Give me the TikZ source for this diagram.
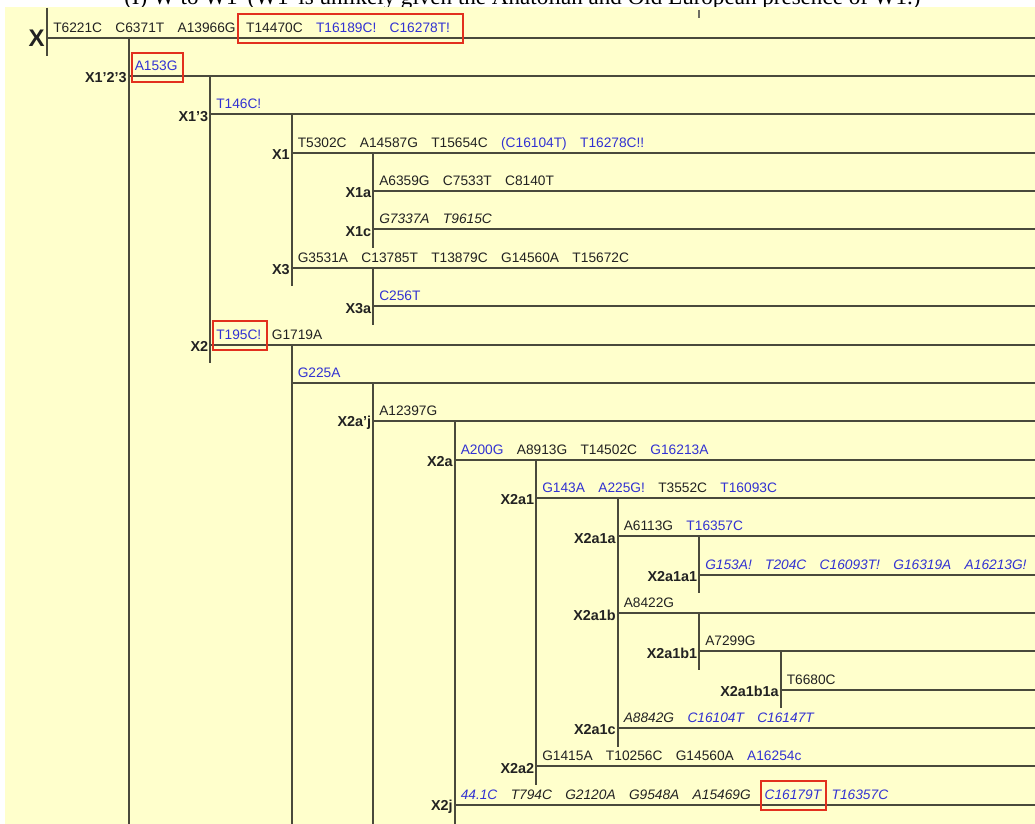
\documentclass[tikz,border=0pt]{standalone}
\usepackage{fontspec}
\setsansfont{Liberation Sans}
\newfontfamily\capfont{Liberation Serif}
\usetikzlibrary{calc}
\definecolor{bgyellow}{HTML}{FFFFCC}
\definecolor{mutblue}{HTML}{3232D2}
\definecolor{boxred}{HTML}{E2301E}
\definecolor{branchgray}{HTML}{4A4A3C}
\definecolor{txtblack}{HTML}{222222}
\newcommand\bl[1]{\textcolor{mutblue}{#1}}
\newcommand\gap{\hspace{10pt}}

\begin{document}
\begin{tikzpicture}[x=0.75pt,y=-0.75pt,
    branch/.style={draw=branchgray,line width=1.5pt},
    lab/.style={font=\sffamily\bfseries\fontsize{10.8}{12}\selectfont,text=txtblack,anchor=east,inner sep=0pt},
    mut/.style={font=\sffamily\fontsize{10.3}{12}\selectfont,text=txtblack,anchor=base west,inner sep=0pt},
    redbox/.style={draw=boxred,line width=1.5pt}]
  \useasboundingbox (0,0) rectangle (1035,824);
  \clip (0,0) rectangle (1035,824);
  \node[font=\capfont\fontsize{17.3}{19}\selectfont,anchor=base west,inner sep=0pt] (cap) at (124,5)
    {(I) W to W1' (W1' is unlikely given the Anatolian and Old European presence of W1.)};
  \fill[bgyellow] (5,7) rectangle (1035,824);
  \draw[line width=0.9pt,branchgray!80] (699,10) -- (699,18);

  % branch points: column / row of every haplogroup
  \foreach \n/\c/\r in {X/0/0, X123/1/1, X13/2/2, X1/3/3, X1a/4/4, X1c/4/5, X3/3/6, X3a/4/7,
      X2/2/8, G225A/3/9, X2aj/4/10, X2a/5/11, X2a1/6/12, X2a1a/7/13, X2a1a1/8/14, X2a1b/7/15,
      X2a1b1/8/16, X2a1b1a/9/17, X2a1c/7/18, X2a2/6/19, X2j/5/20}
    \coordinate (\n) at ({47+81.5*\c},{37.7+38.35*\r});
  \coordinate (E) at (1035,0);
  \coordinate (B) at (0,830);

  % horizontal branches
  \foreach \n in {X,X123,X13,X1,X1a,X1c,X3,X3a,X2,G225A,X2aj,X2a,X2a1,X2a1a,X2a1a1,X2a1b,
      X2a1b1,X2a1b1a,X2a1c,X2a2,X2j}
    \draw[branch] (\n) -- (\n -| E);

  % vertical stems
  \draw[branch] ($(X)+(0,-30)$) -- ($(X)+(0,18.6)$);
  \foreach \a/\p in {X123/X, G225A/X2, X2aj/G225A, X2a/X2aj}
    \draw[branch] (\a |- \p) -- (\a |- B);
  \foreach \a/\p/\z in {X13/X123/X2, X1/X13/X3, X1a/X1/X1c, X3a/X3/X3a, X2a1/X2a/X2a2,
      X2a1a/X2a1/X2a1c, X2a1a1/X2a1a/X2a1a1, X2a1b1/X2a1b/X2a1b1, X2a1b1a/X2a1b1/X2a1b1a}
    \draw[branch] (\a |- \p) -- ($(\z)+(0,18.6)$);

  % haplogroup names
  \node[lab,font=\sffamily\bfseries\fontsize{18}{20}\selectfont] (l-X) at ($(X)+(-2,1)$) {X};
  \foreach \n/\t in {X123/X1'2'3, X13/X1'3, X1/X1, X1a/X1a, X1c/X1c, X3/X3, X3a/X3a, X2/X2,
      X2aj/X2a'j, X2a/X2a, X2a1/X2a1, X2a1a/X2a1a, X2a1a1/X2a1a1, X2a1b/X2a1b, X2a1b1/X2a1b1,
      X2a1b1a/X2a1b1a, X2a1c/X2a1c, X2a2/X2a2, X2j/X2j}
    \node[lab] (l-\n) at ($(\n)+(-1.5,2)$) {\t};

  % mutations
  \node[mut] (m-X) at ($(X)+(6,-5.5)$) {T6221C\gap C6371T\gap A13966G};
  \node[mut,xshift=7.5pt] (bx-X) at (m-X.base east) {T14470C\gap\bl{T16189C!}\gap\bl{C16278T!}};
  \node[mut] (bx-X123) at ($(X123)+(6,-5.5)$) {\bl{A153G}};
  \node[mut] (m-X13) at ($(X13)+(6,-5.5)$) {\bl{T146C!}};
  \node[mut] (m-X1) at ($(X1)+(6,-5.5)$) {T5302C\gap A14587G\gap T15654C\gap\bl{(C16104T)}\gap\bl{T16278C!!}};
  \node[mut] (m-X1a) at ($(X1a)+(6,-5.5)$) {A6359G\gap C7533T\gap C8140T};
  \node[mut] (m-X1c) at ($(X1c)+(6,-5.5)$) {\itshape G7337A\gap T9615C};
  \node[mut] (m-X3) at ($(X3)+(6,-5.5)$) {G3531A\gap C13785T\gap T13879C\gap G14560A\gap T15672C};
  \node[mut] (m-X3a) at ($(X3a)+(6,-5.5)$) {\bl{C256T}};
  \node[mut] (bx-X2) at ($(X2)+(6,-5.5)$) {\bl{T195C!}};
  \node[mut,xshift=7.5pt] (m-X2) at (bx-X2.base east) {G1719A};
  \node[mut] (m-G225A) at ($(G225A)+(6,-5.5)$) {\bl{G225A}};
  \node[mut] (m-X2aj) at ($(X2aj)+(6,-5.5)$) {A12397G};
  \node[mut] (m-X2a) at ($(X2a)+(6,-5.5)$) {\bl{A200G}\gap A8913G\gap T14502C\gap\bl{G16213A}};
  \node[mut] (m-X2a1) at ($(X2a1)+(6,-5.5)$) {\bl{G143A}\gap\bl{A225G!}\gap T3552C\gap\bl{T16093C}};
  \node[mut] (m-X2a1a) at ($(X2a1a)+(6,-5.5)$) {A6113G\gap\bl{T16357C}};
  \node[mut] (m-X2a1a1) at ($(X2a1a1)+(6,-5.5)$) {\itshape\bl{G153A!\gap T204C\gap C16093T!\gap G16319A\gap A16213G!}};
  \node[mut] (m-X2a1b) at ($(X2a1b)+(6,-5.5)$) {A8422G};
  \node[mut] (m-X2a1b1) at ($(X2a1b1)+(6,-5.5)$) {A7299G};
  \node[mut] (m-X2a1b1a) at ($(X2a1b1a)+(6,-5.5)$) {T6680C};
  \node[mut] (m-X2a1c) at ($(X2a1c)+(6,-5.5)$) {\itshape A8842G\gap\bl{C16104T\gap C16147T}};
  \node[mut] (m-X2a2) at ($(X2a2)+(6,-5.5)$) {G1415A\gap T10256C\gap G14560A\gap\bl{A16254c}};
  \node[mut] (m-X2j) at ($(X2j)+(6,-5.5)$) {\itshape\bl{44.1C}\gap T794C\gap G2120A\gap G9548A\gap A15469G};
  \node[mut,xshift=10pt] (bx-X2j) at (m-X2j.base east) {\itshape\bl{C16179T}};
  \node[mut,xshift=7.5pt] (n-X2j) at (bx-X2j.base east) {\itshape\bl{T16357C}};

  % highlighted mutations
  \draw[redbox] ($(bx-X.base west)+(-8,-18)$) rectangle ($(bx-X.base east)+(13,11)$);
  \foreach \b in {X123,X2,X2j}
    \draw[redbox] ($(bx-\b.base west)+(-3,-18)$) rectangle ($(bx-\b.base east)+(5,11)$);
\end{tikzpicture}
\end{document}
